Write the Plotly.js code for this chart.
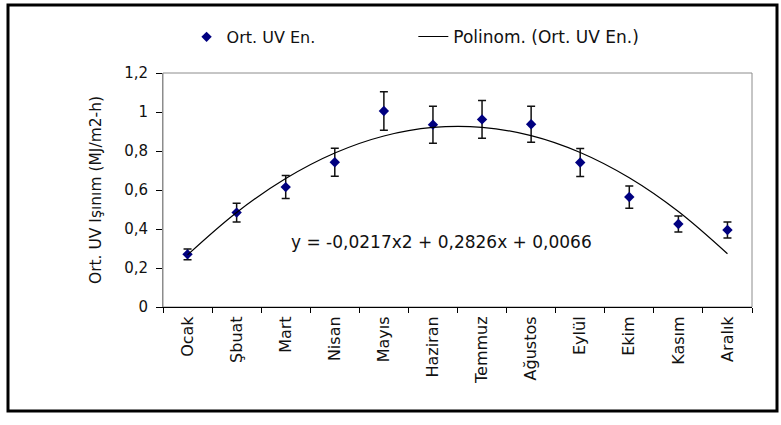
<!DOCTYPE html>
<html>
<head>
<meta charset="utf-8">
<script src="https://cdn.plot.ly/plotly-3.0.1.min.js"></script>
<style>
  html, body { margin: 0; padding: 0; background: #fff; }
  #chart { width: 781px; height: 425px; }
</style>
</head>
<body>
<div id="chart"></div>
<script>
// Data
const months = ["Ocak", "Şbuat", "Mart", "Nisan", "Mayıs", "Haziran", "Temmuz", "Ağustos", "Eylül", "Ekim", "Kasım", "Aralık"];
const meanUV = [0.27, 0.484, 0.615, 0.742, 1.005, 0.935, 0.962, 0.937, 0.741, 0.564, 0.426, 0.395];
const errUV  = [0.028, 0.048, 0.059, 0.072, 0.099, 0.095, 0.097, 0.092, 0.072, 0.057, 0.041, 0.041];
const trendUV = [0.2675, 0.4850, 0.6589, 0.7898, 0.8771, 0.9210, 0.9215, 0.8786, 0.7923, 0.6626, 0.4895, 0.2730];
const yTicks = [0, 0.2, 0.4, 0.6, 0.8, 1, 1.2];
const equationText = "y = -0,0217x2 + 0,2826x + 0,0066";
const legendNames = ["Ort. UV En.", "Polinom. (Ort. UV En.)"];
const yTitle = "Ort. UV Işınım (MJ/m2-h)";

const FONT = "DejaVu Sans, Verdana, sans-serif";
const TXT = "#111";

const traces = [
  {
    type: "scatter",
    mode: "markers",
    x: months,
    y: meanUV,
    name: legendNames[0],
    legend: "legend",
    marker: { symbol: "diamond", size: 8, color: "#000080" },
    error_y: { type: "data", array: errUV, visible: true, color: "#111", thickness: 1.5, width: 4 },
    cliponaxis: false
  },
  {
    type: "scatter",
    mode: "lines",
    x: months,
    y: trendUV,
    name: legendNames[1],
    legend: "legend2",
    line: { color: "#000", width: 1.2, shape: "spline", smoothing: 1 }
  }
];

const layout = {
  width: 781,
  height: 425,
  margin: { l: 163, r: 29, t: 73, b: 118 },
  paper_bgcolor: "#fff",
  plot_bgcolor: "#fff",
  font: { family: FONT, size: 15, color: TXT },
  separators: ",.",
  showlegend: true,
  legend: {
    orientation: "h", x: 0.04, xanchor: "left", y: 1.154, yanchor: "middle",
    font: { family: FONT, size: 16, color: TXT }, bgcolor: "rgba(0,0,0,0)"
  },
  legend2: {
    orientation: "h", x: 0.425, xanchor: "left", y: 1.154, yanchor: "middle",
    font: { family: FONT, size: 17, color: TXT }, bgcolor: "rgba(0,0,0,0)"
  },
  xaxis: {
    type: "category",
    range: [-0.5, 11.5],
    tickangle: -90,
    ticks: "outside",
    tickson: "boundaries",
    ticklen: 5,
    tickcolor: "#000",
    tickwidth: 1,
    showline: true,
    linecolor: "#000",
    linewidth: 1,
    showgrid: false,
    zeroline: false,
    ticklabelstandoff: 2,
    tickfont: { family: FONT, size: 16, color: TXT },
    fixedrange: true
  },
  yaxis: {
    range: [0, 1.2],
    tickvals: yTicks,
    ticks: "outside",
    ticklen: 6,
    tickcolor: "#000",
    showline: true,
    linecolor: "#8c8c8c",
    linewidth: 1,
    showgrid: false,
    zeroline: false,
    ticklabelstandoff: 5,
    tickfont: { family: FONT, size: 15, color: TXT },
    title: { text: yTitle, font: { family: FONT, size: 15.5, color: TXT }, standoff: 18 },
    fixedrange: true
  },
  shapes: [
    { type: "rect", xref: "paper", yref: "paper", x0: 0, x1: 1, y0: 0, y1: 1,
      line: { color: "#8c8c8c", width: 1 }, layer: "below" },
    { type: "rect", xref: "paper", yref: "paper",
      x0: (8 - 163) / 589, x1: (777 - 163) / 589,
      y0: (307 - 411) / 234, y1: (307 - 5) / 234,
      line: { color: "#000", width: 3 }, layer: "above" }
  ],
  annotations: [
    { text: equationText, xref: "paper", yref: "y", x: 0.472, y: 0.333,
      showarrow: false, font: { family: FONT, size: 17, color: TXT } }
  ]
};

Plotly.newPlot("chart", traces, layout, { displayModeBar: false, staticPlot: true });
</script>
</body>
</html>
